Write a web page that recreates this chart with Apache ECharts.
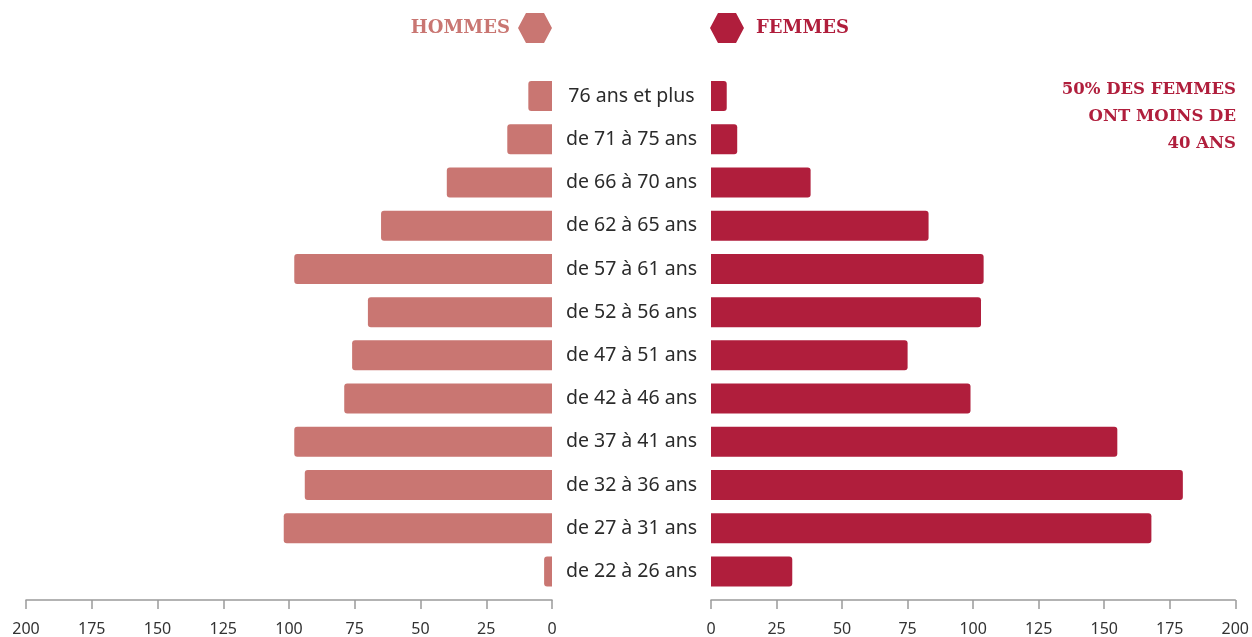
<!DOCTYPE html>
<html>
<head>
<meta charset="utf-8">
<script src="https://cdn.jsdelivr.net/npm/echarts@6/dist/echarts.min.js"></script>
<style>html,body{margin:0;padding:0;background:#fff}#c{width:1252px;height:637px}</style>
</head>
<body>
<div id="c"></div>
<script>
var categories = ['76 ans et plus','de 71 à 75 ans','de 66 à 70 ans','de 62 à 65 ans','de 57 à 61 ans','de 52 à 56 ans','de 47 à 51 ans','de 42 à 46 ans','de 37 à 41 ans','de 32 à 36 ans','de 27 à 31 ans','de 22 à 26 ans'];
var hommes = [9, 17, 40, 65, 98, 70, 76, 79, 98, 94, 102, 3];
var femmes = [6, 10, 38, 83, 104, 103, 75, 99, 155, 180, 168, 31];
var axisMax = 200;
var axisStep = 25;
var noteLines = ['50% DES FEMMES', 'ONT MOINS DE', '40 ANS'];

var cMen = '#C97672', cWomen = '#B01E3C';
var hex = 'path://M0,15 L8,0 L26,0 L34,15 L26,30 L8,30 Z';
var chart = echarts.init(document.getElementById('c'));
var xAx = function (idx, inv) {
  return {
    type: 'value', gridIndex: idx, min: 0, max: axisMax, interval: axisStep, inverse: inv,
    position: 'bottom', offset: 7,
    axisLine: {show: true, lineStyle: {color: '#9a9a9a', width: 1.5}},
    axisTick: {show: true, length: 9, lineStyle: {color: '#9a9a9a', width: 1.5}},
    axisLabel: {color: '#333', fontSize: 16, fontFamily: 'Noto Sans', margin: 21},
    splitLine: {show: false}
  };
};
chart.setOption({
  animation: false,
  legend: [
    {data: ['HOMMES'], right: 700, top: 13, padding: 0, align: 'right', itemWidth: 34, itemHeight: 30,
     icon: hex, textStyle: {color: cMen, fontSize: 18, fontWeight: 'bold', fontFamily: 'DejaVu Serif', padding: [0, 3, 0, 0]}},
    {data: ['FEMMES'], left: 710, top: 13, padding: 0, align: 'left', itemWidth: 34, itemHeight: 30,
     icon: hex, textStyle: {color: cWomen, fontSize: 18, fontWeight: 'bold', fontFamily: 'DejaVu Serif', padding: [0, 0, 0, 7]}}
  ],
  grid: [
    {left: 26, right: 700, top: 74.5, bottom: 42},
    {left: 711, right: 15, top: 74.5, bottom: 42}
  ],
  xAxis: [xAx(0, true), xAx(1, false)],
  yAxis: [
    {type: 'category', gridIndex: 0, data: categories, inverse: true, position: 'right',
     axisLine: {show: false}, axisTick: {show: false}, axisLabel: {show: false}},
    {type: 'category', gridIndex: 1, data: categories, inverse: true, position: 'left',
     axisLine: {show: false}, axisTick: {show: false},
     axisLabel: {show: true, align: 'center', margin: 79.5, color: '#2b2b2b', fontSize: 19.5, fontFamily: 'Noto Sans'}}
  ],
  graphic: [{
    type: 'text', x: 1236, y: 76,
    style: {text: noteLines.join('\n'), align: 'right', verticalAlign: 'top', fill: cWomen, font: 'bold 16.5px "DejaVu Serif"', lineHeight: 27}
  }],
  series: [
    {name: 'HOMMES', type: 'bar', xAxisIndex: 0, yAxisIndex: 0, data: hommes, barWidth: 30,
     itemStyle: {color: cMen, borderRadius: [3, 0, 0, 3]}},
    {name: 'FEMMES', type: 'bar', xAxisIndex: 1, yAxisIndex: 1, data: femmes, barWidth: 30,
     itemStyle: {color: cWomen, borderRadius: [0, 3, 3, 0]}}
  ]
});
</script>
</body>
</html>
